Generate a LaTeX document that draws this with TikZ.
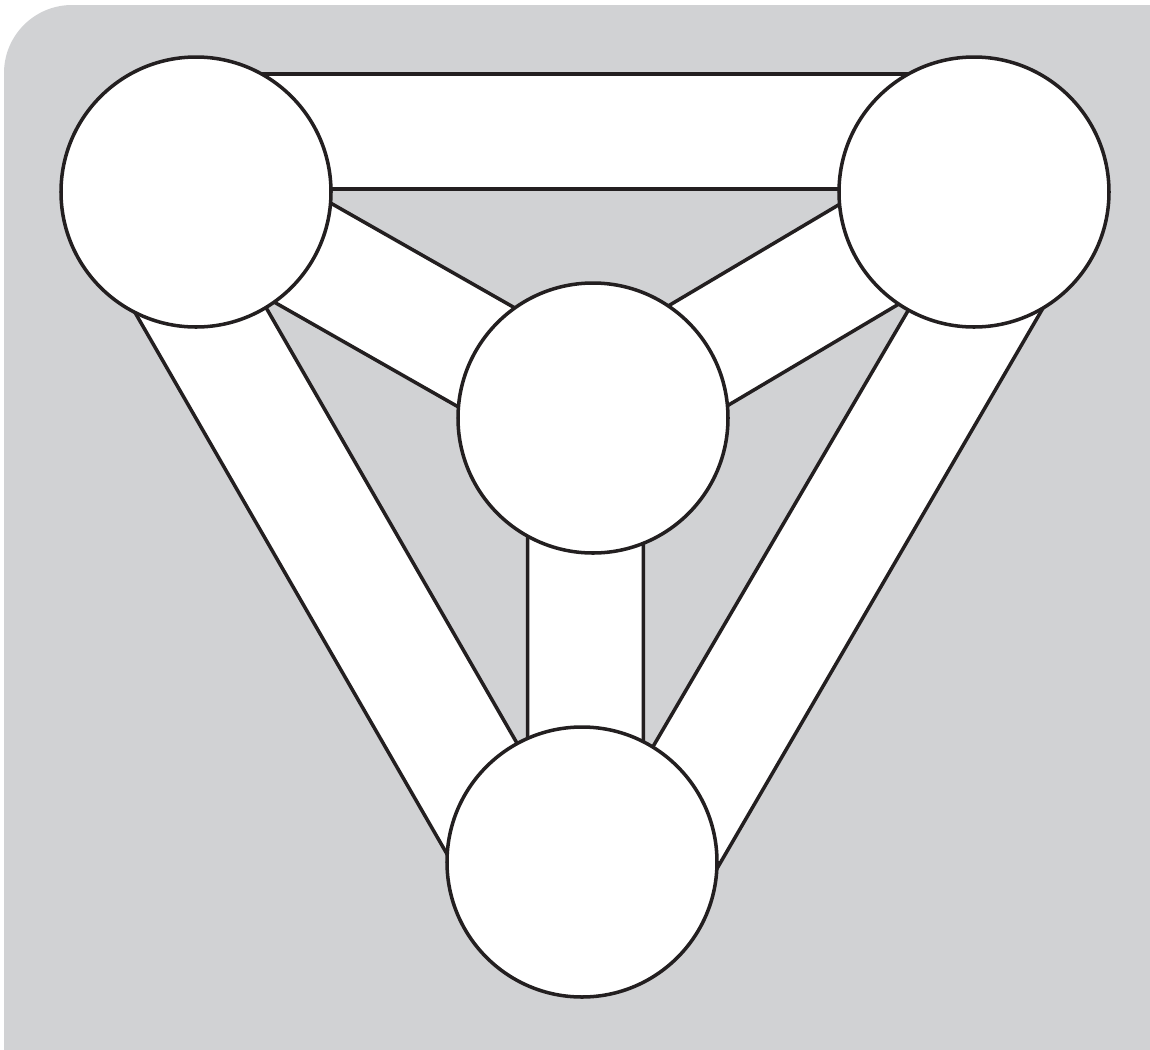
\documentclass[tikz,border=0pt]{standalone}
\usetikzlibrary{calc}
\definecolor{paper}{HTML}{D1D2D4}
\definecolor{ink}{HTML}{231F20}
\pgfdeclarelayer{bands}
\pgfsetlayers{bands,main}

\begin{document}
\begin{tikzpicture}[
    x=0.1mm, y=-0.1mm, % one unit = one pixel of the reference
    line width=1pt,
    line join=round,
    hub/.style={circle, draw=ink, line width=1pt, fill=white, minimum size=2.7cm, inner sep=0pt, outer sep=0pt},
    strip/.style={fill=white},
    strip edge/.style={draw=ink, line width=1pt}
]
  \useasboundingbox (0,0) rectangle (1150,1049);

  % Four hubs
  \node[hub] (tl) at (196,192) {};
  \node[hub] (tr) at (974,192) {};
  \node[hub] (mid) at (593,418) {};
  \node[hub] (bot) at (582,862) {};

  \begin{pgfonlayer}{bands}
    % Grey panel, rounded at the top left
    \fill[paper, rounded corners=6.8mm] (4,5) rectangle (1300,1200);

    % White strips between hubs: offsets of each edge at both ends
    \foreach \a/\b/\pa/\pb/\qa/\qb in {
        tl/tr/11.8mm/11.8mm/0.3mm/0.3mm,
        tl/mid/5.7mm/5.7mm/-5.7mm/-5.7mm,
        tr/mid/5.8mm/5.8mm/-5.8mm/-5.8mm,
        tl/bot/0.3mm/0.3mm/-11.3mm/-11.3mm,
        tr/bot/11.8mm/12mm/0.3mm/0.3mm,
        mid/bot/5.05mm/6.15mm/-6.55mm/-5.45mm} {
      \coordinate (a1) at ($(\a.center)!\pa!90:(\b.center)$);
      \coordinate (b1) at ($(\b.center)!\pb!-90:(\a.center)$);
      \coordinate (a2) at ($(\a.center)!\qa!90:(\b.center)$);
      \coordinate (b2) at ($(\b.center)!\qb!-90:(\a.center)$);
      \fill[strip] (a1) -- (b1) -- (b2) -- (a2) -- cycle;
      \draw[strip edge] (a1) -- (b1) (a2) -- (b2);
    }
  \end{pgfonlayer}
\end{tikzpicture}
\end{document}
